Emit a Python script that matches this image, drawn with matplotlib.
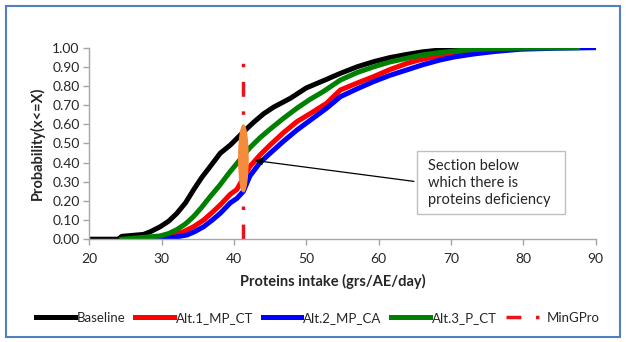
import matplotlib
matplotlib.use('Agg')
import matplotlib.pyplot as plt
from matplotlib.patches import Ellipse, Rectangle

plt.rcParams['font.family'] = ['Lato', 'DejaVu Sans']

# Cumulative distributions (x = grs/AE/day, y = P(x<=X))
base_x = [20, 24.0, 24.5, 27.5, 28.5, 29.8, 31.0, 32.1, 33.3, 34.4, 35.5, 36.7, 38.1, 39.5,
          41.3, 42.7, 44.1, 45.5, 47.8, 50.0, 52.5, 54.7, 57.0, 59.3, 61.5, 63.9, 66.0,
          68.5, 71.0, 74.0, 78.0]
base_y = [0, 0, 0.015, 0.025, 0.04, 0.065, 0.095, 0.135, 0.19, 0.257, 0.32, 0.379, 0.449, 0.492,
          0.56, 0.61, 0.655, 0.69, 0.736, 0.79, 0.83, 0.866, 0.9, 0.927, 0.948, 0.965, 0.978,
          0.988, 0.995, 0.999, 1.0]

alt1_x = [26.5, 28.5, 29.8, 31.5, 33.0, 34.4, 35.8, 37.0, 38.1, 39.5, 40.4, 41.0, 42.2, 43.6,
          45.0, 46.8, 48.7, 50.5, 52.8, 54.7, 57.0, 59.3, 61.5, 63.9, 65.5, 68.0, 71.0, 75.0,
          80.0, 84.0]
alt1_y = [0, 0.002, 0.005, 0.02, 0.039, 0.065, 0.10, 0.14, 0.179, 0.235, 0.26, 0.30, 0.38, 0.44,
          0.492, 0.555, 0.614, 0.655, 0.71, 0.779, 0.815, 0.849, 0.885, 0.918, 0.935, 0.955,
          0.972, 0.988, 0.997, 1.0]

alt2_x = [27.0, 29.8, 31.5, 33.5, 34.6, 35.8, 37.0, 38.1, 39.5, 40.4, 41.3, 42.2, 43.6, 45.0,
          46.8, 48.7, 50.5, 52.8, 54.7, 57.0, 59.3, 61.5, 63.9, 66.0, 68.5, 70.5, 73.1, 76.0,
          79.6, 84.2, 89.7]
alt2_y = [0, 0.002, 0.008, 0.022, 0.04, 0.065, 0.10, 0.135, 0.19, 0.213, 0.25, 0.33, 0.40, 0.449,
          0.51, 0.57, 0.62, 0.684, 0.744, 0.785, 0.823, 0.855, 0.884, 0.91, 0.936, 0.952, 0.967,
          0.98, 0.992, 0.997, 1.0]

alt3_x = [24.5, 27.0, 29.8, 31.0, 32.1, 33.3, 34.4, 35.5, 36.7, 38.0, 39.3, 40.6, 42.2, 43.6,
          45.0, 46.8, 48.7, 50.5, 52.3, 54.7, 57.0, 59.3, 61.5, 63.9, 66.0, 68.5, 70.5, 73.1,
          76.0, 80.0, 87.5]
alt3_y = [0, 0.008, 0.017, 0.03, 0.05, 0.08, 0.118, 0.165, 0.222, 0.28, 0.345, 0.405, 0.478, 0.53,
          0.575, 0.63, 0.684, 0.73, 0.77, 0.831, 0.87, 0.9, 0.925, 0.945, 0.962, 0.975, 0.983,
          0.99, 0.995, 0.998, 1.0]

# minimum protein requirement line
min_x = [41.3, 41.3]
min_y = [0, 0.94]

x_ticks = [20, 30, 40, 50, 60, 70, 80, 90]
y_ticks = [0, 0.1, 0.2, 0.3, 0.4, 0.5, 0.6, 0.7, 0.8, 0.9, 1.0]

W, H = 626, 342
fig = plt.figure(figsize=(W / 100, H / 100), dpi=100)
ax = fig.add_axes([89.3 / W, 1 - 239.2 / H, (595.7 - 89.3) / W, (239.2 - 47.7) / H])

lw = 3.6
ax.plot(base_x, base_y, color='black', lw=lw, label='Baseline')
ax.plot(alt1_x, alt1_y, color='#FF0000', lw=lw, label='Alt.1_MP_CT')
ax.plot(alt2_x, alt2_y, color='#0000FF', lw=lw, label='Alt.2_MP_CA')
ax.plot(alt3_x, alt3_y, color='#008000', lw=lw, label='Alt.3_P_CT')
ax.plot(min_x, min_y, color='#E8141C', lw=2.5, dashes=(4.3, 4.2, 1.0, 4.2),
        dash_capstyle='butt', label='MinGPro')

# highlighted deficiency section
ax.add_patch(Ellipse((41.3, 0.422), 1.29, 0.348, color='#F58B3C', zorder=5))

ax.annotate('', xy=(42.5, 0.413), xytext=(65.25, 0.30),
            arrowprops=dict(arrowstyle='-|>', color='black', lw=0.9, mutation_scale=11),
            zorder=6)

ax.set_xlim(20, 90)
ax.set_ylim(0, 1.0)
ax.set_xticks(x_ticks)
ax.set_yticks(y_ticks)
ax.set_yticklabels([f'{v:.2f}' for v in y_ticks])

for s in ['top', 'right']:
    ax.spines[s].set_visible(False)
for s in ['left', 'bottom']:
    ax.spines[s].set_color('#A6A6A6')
    ax.spines[s].set_linewidth(1.0)
ax.tick_params(colors='#A6A6A6', length=4, width=1.0, labelsize=10, labelcolor='#262626')
ax.tick_params(axis='x', pad=6)
ax.tick_params(axis='y', pad=3)

fig.text(333 / W, 1 - 281 / H, 'Proteins intake (grs/AE/day)', ha='center', va='center',
         fontsize=10.5, fontweight='bold', color='#262626')
fig.text(37 / W, 1 - 143 / H, 'Probability(x<=X)', ha='center', va='center', rotation=90,
         fontsize=10.5, fontweight='bold', color='#262626')

# text box
fig.patches.append(Rectangle((417 / W, 1 - 214 / H), 148 / W, 63 / H, transform=fig.transFigure,
                             facecolor='white', edgecolor='#BFBFBF', lw=1.0, zorder=7))
fig.text(428 / W, 1 - 183 / H, 'Section below\nwhich there is\nproteins deficiency',
         ha='left', va='center', fontsize=10.5, linespacing=1.3, color='#262626', zorder=8)

fig.legend(loc='center', bbox_to_anchor=(318 / W, 1 - 318 / H), ncol=5, frameon=False,
           fontsize=9.5, handlelength=2.9, handletextpad=0.15, columnspacing=0.75,
           labelcolor='#262626')

# chart-area border
fig.patches.append(Rectangle((6 / W, 1 - 337 / H), 614 / W, 331 / H, transform=fig.transFigure,
                             facecolor='none', edgecolor='#4F81BD', lw=1.5))

fig.savefig('out.png', dpi=100)
